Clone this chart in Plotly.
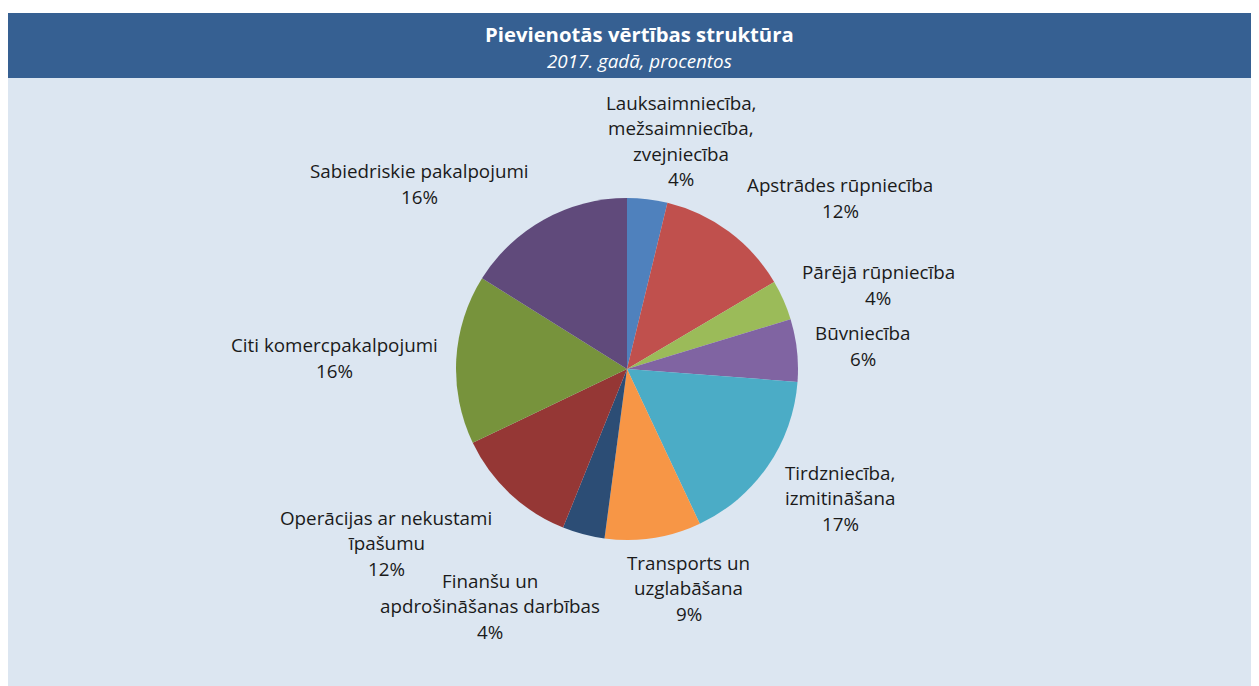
import plotly.graph_objects as go

# ---- data ----
sectors = [
    "Lauksaimniecība,<br>mežsaimniecība,<br>zvejniecība",
    "Apstrādes rūpniecība",
    "Pārējā rūpniecība",
    "Būvniecība",
    "Tirdzniecība,<br>izmitināšana",
    "Transports un<br>uzglabāšana",
    "Finanšu un<br>apdrošināšanas darbības",
    "Operācijas ar nekustami<br>īpašumu",
    "Citi komercpakalpojumi",
    "Sabiedriskie pakalpojumi",
]
shares = [3.8, 12.7, 3.8, 5.9, 16.8, 9.1, 4.0, 11.8, 16.0, 16.1]
share_labels = ["4%", "12%", "4%", "6%", "17%", "9%", "4%", "12%", "16%", "16%"]

colors = ["#4F81BD", "#C0504D", "#9BBB59", "#8064A2", "#4BACC6",
          "#F79646", "#2C4D75", "#953735", "#77933C", "#604A7B"]

title = "Pievienotās vērtības struktūra"
subtitle = "2017. gadā, procentos"

# ---- layout ----
OFF = 8  # browser body margin
W, H = 1259 - OFF, 686 - OFF
cx, cy, r = 627 - OFF, 369 - OFF, 171
# label block centres (window pixels) for each slice label
label_pos = [(681, 141), (840, 198), (878, 285), (863, 346), (840, 498),
             (689, 588), (490, 606), (386, 543), (334, 358), (419, 184)]
line_h = 25.5
FONT = "Open Sans"


def px(x):
    return (x - OFF) / W


def py(y):
    return (H - (y - OFF)) / H


fig = go.Figure()
fig.add_trace(go.Pie(
    labels=[s.replace("<br>", " ") for s in sectors],
    values=shares,
    sort=False,
    direction="clockwise",
    rotation=0,
    marker=dict(colors=colors, line=dict(width=0)),
    textinfo="none",
    hoverinfo="label+percent",
    showlegend=False,
    domain=dict(x=[(cx - r) / W, (cx + r) / W],
                y=[(H - cy - r) / H, (H - cy + r) / H]),
))

shapes = [
    dict(type="rect", xref="paper", yref="paper",
         x0=0, x1=1, y0=0, y1=py(78),
         fillcolor="#DCE6F1", line=dict(width=0), layer="below"),
    dict(type="rect", xref="paper", yref="paper",
         x0=0, x1=1, y0=py(78), y1=py(13),
         fillcolor="#366092", line=dict(width=0), layer="below"),
]

annotations = [
    dict(text="<b>" + title + "</b>", x=px(639.5), y=py(34), xref="paper", yref="paper",
         showarrow=False, font=dict(family=FONT, size=20.3, color="white"),
         xanchor="center", yanchor="middle"),
    dict(text="<i>" + subtitle + "</i>", x=px(639), y=py(61), xref="paper", yref="paper",
         showarrow=False, font=dict(family=FONT, size=18.8, color="white"),
         xanchor="center", yanchor="middle"),
]

for name, pct, (lx, ly) in zip(sectors, share_labels, label_pos):
    lines = name.split("<br>") + [pct]
    n = len(lines)
    for i, ln in enumerate(lines):
        yy = ly + (i - (n - 1) / 2) * line_h
        annotations.append(dict(
            text=ln, x=px(lx), y=py(yy), xref="paper", yref="paper",
            showarrow=False, font=dict(family=FONT, size=18.8, color="#1a1a1a"),
            xanchor="center", yanchor="middle"))

fig.update_layout(
    width=W, height=H,
    margin=dict(l=0, r=0, t=0, b=0),
    paper_bgcolor="white",
    plot_bgcolor="white",
    shapes=shapes,
    annotations=annotations,
)

fig.write_html("out.html")
